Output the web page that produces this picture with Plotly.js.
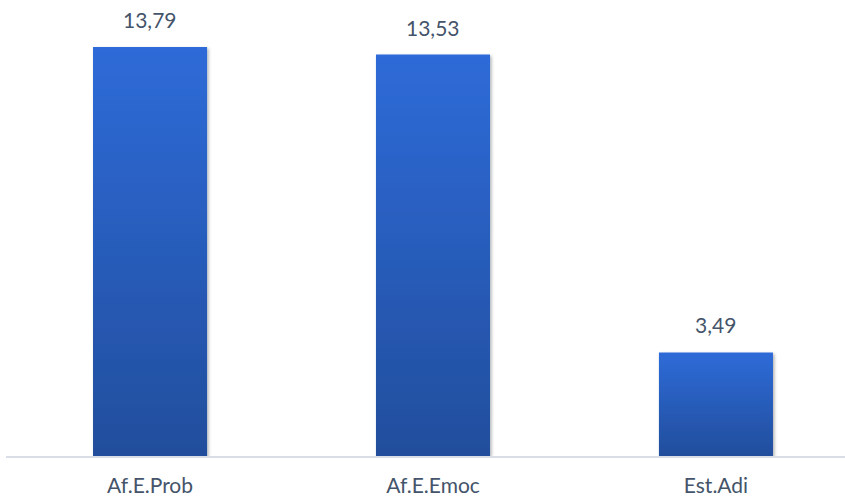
<!DOCTYPE html>
<html>
<head>
<meta charset="utf-8">
<script src="https://cdn.plot.ly/plotly-3.0.1.min.js"></script>
<style>html,body{margin:0;padding:0;background:#fff;}#chart{width:845px;height:497px;}</style>
</head>
<body>
<div id="chart"></div>
<script>
const categories = ["Af.E.Prob", "Af.E.Emoc", "Est.Adi"];
const values = [13.79, 13.53, 3.49];
const labels = ["13,79", "13,53", "3,49"];

const textColor = "#44546a";
const font = "Lato, 'Open Sans', sans-serif";

const trace = {
  type: "bar",
  x: categories,
  y: values,
  width: 0.403,
  marker: {color: "#2a5fc0", line: {width: 0}},
  hoverinfo: "none"
};

const annotations = categories.map((c, i) => ({
  x: c, y: values[i], xref: "x", yref: "y",
  text: labels[i], showarrow: false,
  yanchor: "bottom", yshift: 13,
  font: {family: font, size: 21, color: textColor}
}));

const layout = {
  width: 845, height: 497,
  margin: {l: 6, r: 0, t: 11, b: 41},
  paper_bgcolor: "#fff", plot_bgcolor: "#fff",
  separators: ",.",
  showlegend: false,
  xaxis: {
    range: [-0.509, 2.456],
    showgrid: false, zeroline: false,
    showline: true, linecolor: "#d9dee6", linewidth: 1.5,
    ticks: "", ticklabelstandoff: 10,
    tickfont: {family: font, size: 21, color: textColor},
    fixedrange: true
  },
  yaxis: {
    range: [0, 15], visible: false, showgrid: false, zeroline: false, fixedrange: true
  },
  annotations: annotations
};

Plotly.newPlot("chart", [trace], layout, {staticPlot: true, displayModeBar: false}).then(gd => {
  const svg = gd.querySelector("svg.main-svg");
  const ns = "http://www.w3.org/2000/svg";
  let defs = svg.querySelector("defs");
  if (!defs) { defs = document.createElementNS(ns, "defs"); svg.insertBefore(defs, svg.firstChild); }
  defs.insertAdjacentHTML("beforeend",
    '<linearGradient id="barGrad" x1="0" y1="0" x2="0" y2="1">' +
    '<stop offset="0" stop-color="#2e6bd8"/><stop offset="1" stop-color="#214e9c"/></linearGradient>' +
    '<filter id="barShadow" x="-10%" y="-10%" width="130%" height="130%">' +
    '<feDropShadow dx="1.5" dy="1.5" stdDeviation="1.5" flood-color="#000" flood-opacity="0.3"/></filter>');
  gd.querySelectorAll(".bars .point path").forEach(p => {
    p.style.fill = "url(#barGrad)";
    p.setAttribute("filter", "url(#barShadow)");
  });
});
</script>
</body>
</html>
